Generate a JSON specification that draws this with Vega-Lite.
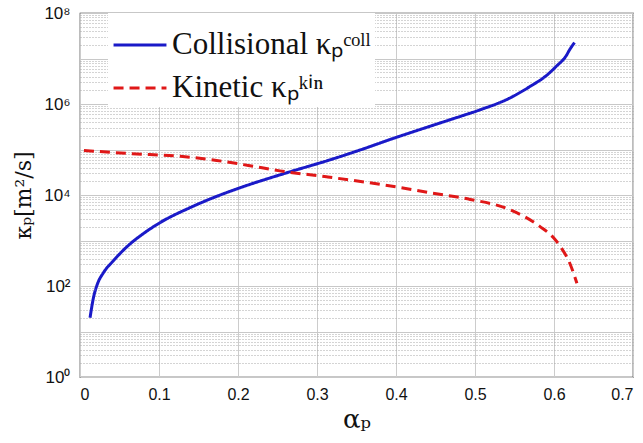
{
  "$schema": "https://vega.github.io/schema/vega-lite/v6.json",
  "width": 553,
  "height": 364,
  "autosize": {"type": "none"},
  "padding": {"left": 80, "top": 13, "right": 10, "bottom": 66},
  "background": "white",
  "config": {
    "view": {"stroke": "#222", "strokeWidth": 1.2},
    "axis": {"domain": false, "ticks": false}
  },
  "data": {
    "values": [
      {"series": "Collisional κₚᶜᵒˡˡ", "x": 0.0127, "y": 20},
      {"series": "Collisional κₚᶜᵒˡˡ", "x": 0.017, "y": 55},
      {"series": "Collisional κₚᶜᵒˡˡ", "x": 0.022, "y": 110},
      {"series": "Collisional κₚᶜᵒˡˡ", "x": 0.03, "y": 200},
      {"series": "Collisional κₚᶜᵒˡˡ", "x": 0.042, "y": 355},
      {"series": "Collisional κₚᶜᵒˡˡ", "x": 0.063, "y": 830},
      {"series": "Collisional κₚᶜᵒˡˡ", "x": 0.08, "y": 1410},
      {"series": "Collisional κₚᶜᵒˡˡ", "x": 0.101, "y": 2450},
      {"series": "Collisional κₚᶜᵒˡˡ", "x": 0.139, "y": 5250},
      {"series": "Collisional κₚᶜᵒˡˡ", "x": 0.17, "y": 8900},
      {"series": "Collisional κₚᶜᵒˡˡ", "x": 0.203, "y": 14500},
      {"series": "Collisional κₚᶜᵒˡˡ", "x": 0.262, "y": 30900},
      {"series": "Collisional κₚᶜᵒˡˡ", "x": 0.316, "y": 58900},
      {"series": "Collisional κₚᶜᵒˡˡ", "x": 0.36, "y": 105000},
      {"series": "Collisional κₚᶜᵒˡˡ", "x": 0.396, "y": 174000},
      {"series": "Collisional κₚᶜᵒˡˡ", "x": 0.443, "y": 324000},
      {"series": "Collisional κₚᶜᵒˡˡ", "x": 0.485, "y": 560000},
      {"series": "Collisional κₚᶜᵒˡˡ", "x": 0.506, "y": 740000},
      {"series": "Collisional κₚᶜᵒˡˡ", "x": 0.544, "y": 1350000},
      {"series": "Collisional κₚᶜᵒˡˡ", "x": 0.57, "y": 2450000},
      {"series": "Collisional κₚᶜᵒˡˡ", "x": 0.59, "y": 4170000},
      {"series": "Collisional κₚᶜᵒˡˡ", "x": 0.603, "y": 6760000},
      {"series": "Collisional κₚᶜᵒˡˡ", "x": 0.615, "y": 11200000},
      {"series": "Collisional κₚᶜᵒˡˡ", "x": 0.62, "y": 15800000},
      {"series": "Collisional κₚᶜᵒˡˡ", "x": 0.626, "y": 22400000},
      {"series": "Kinetic κₚᵏⁱⁿ", "x": 0.005, "y": 95500},
      {"series": "Kinetic κₚᵏⁱⁿ", "x": 0.063, "y": 81300},
      {"series": "Kinetic κₚᵏⁱⁿ", "x": 0.127, "y": 70800},
      {"series": "Kinetic κₚᵏⁱⁿ", "x": 0.173, "y": 57500},
      {"series": "Kinetic κₚᵏⁱⁿ", "x": 0.213, "y": 44700},
      {"series": "Kinetic κₚᵏⁱⁿ", "x": 0.253, "y": 33900},
      {"series": "Kinetic κₚᵏⁱⁿ", "x": 0.312, "y": 25100},
      {"series": "Kinetic κₚᵏⁱⁿ", "x": 0.389, "y": 16200},
      {"series": "Kinetic κₚᵏⁱⁿ", "x": 0.443, "y": 11200},
      {"series": "Kinetic κₚᵏⁱⁿ", "x": 0.494, "y": 8000},
      {"series": "Kinetic κₚᵏⁱⁿ", "x": 0.541, "y": 5000},
      {"series": "Kinetic κₚᵏⁱⁿ", "x": 0.582, "y": 2040},
      {"series": "Kinetic κₚᵏⁱⁿ", "x": 0.6, "y": 1120},
      {"series": "Kinetic κₚᵏⁱⁿ", "x": 0.608, "y": 741},
      {"series": "Kinetic κₚᵏⁱⁿ", "x": 0.62, "y": 316},
      {"series": "Kinetic κₚᵏⁱⁿ", "x": 0.629, "y": 115}
    ]
  },
  "mark": {"type": "line", "strokeWidth": 3, "clip": true, "interpolate": "monotone"},
  "encoding": {
    "x": {
      "field": "x",
      "type": "quantitative",
      "scale": {"domain": [0, 0.7], "nice": false, "zero": false},
      "axis": {
        "values": [0, 0.1, 0.2, 0.3, 0.4, 0.5, 0.6, 0.7],
        "labelFont": "Liberation Sans",
        "labelFontSize": 16,
        "labelColor": "#111",
        "labelPadding": 9,
        "labelExpr": "datum.value == 0 ? '0' : format(datum.value, '.1f')",
        "gridColor": "#cccccc",
        "gridWidth": 1,
        "title": "αₚ",
        "titleFont": "DejaVu Serif",
        "titleFontSize": 26,
        "titleFontWeight": "normal",
        "titleColor": "#111",
        "titlePadding": 4
      }
    },
    "y": {
      "field": "y",
      "type": "quantitative",
      "scale": {"type": "log", "domain": [1, 100000000], "nice": false},
      "axis": {
        "values": [1,2,3,4,5,6,7,8,9,10,20,30,40,50,60,70,80,90,100,200,300,400,500,600,700,800,900,1000,2000,3000,4000,5000,6000,7000,8000,9000,10000,20000,30000,40000,50000,60000,70000,80000,90000,100000,200000,300000,400000,500000,600000,700000,800000,900000,1000000,2000000,3000000,4000000,5000000,6000000,7000000,8000000,9000000,10000000,20000000,30000000,40000000,50000000,60000000,70000000,80000000,90000000,100000000],
        "labelExpr": "datum.value == 1 ? '10⁰' : datum.value == 100 ? '10²' : datum.value == 10000 ? '10⁴' : datum.value == 1000000 ? '10⁶' : datum.value == 100000000 ? '10⁸' : ''",
        "labelOverlap": false,
        "labelFont": "Liberation Sans",
        "labelFontSize": 17,
        "labelColor": "#111",
        "labelPadding": 10,
        "gridColor": {"condition": {"test": "abs(log(datum.value)/LN10 - round(log(datum.value)/LN10)) < 0.000001", "value": "#c8c8c8"}, "value": "#a8a8a8"},
        "gridDash": {"condition": {"test": "abs(log(datum.value)/LN10 - round(log(datum.value)/LN10)) < 0.000001", "value": []}, "value": [1, 2]},
        "gridWidth": 1,
        "title": "κₚ[m²/s]",
        "titleFont": "DejaVu Serif",
        "titleFontSize": 22,
        "titleFontWeight": "normal",
        "titleColor": "#111",
        "titlePadding": 8
      }
    },
    "color": {
      "field": "series",
      "type": "nominal",
      "scale": {"domain": ["Collisional κₚᶜᵒˡˡ", "Kinetic κₚᵏⁱⁿ"], "range": ["#1a1ac8", "#e01818"]},
      "legend": {
        "title": null,
        "orient": "none",
        "legendX": 28,
        "legendY": 0,
        "symbolType": "stroke",
        "symbolSize": 2800,
        "symbolStrokeWidth": 3,
        "labelFont": "Liberation Serif",
        "labelFontSize": 31,
        "labelColor": "#111",
        "labelLimit": 400,
        "rowPadding": -10,
        "labelOffset": 4,
        "fillColor": "white",
        "padding": 4
      }
    },
    "strokeDash": {
      "field": "series",
      "type": "nominal",
      "scale": {"domain": ["Collisional κₚᶜᵒˡˡ", "Kinetic κₚᵏⁱⁿ"], "range": [[1, 0], [10, 6]]},
      "legend": null
    }
  }
}
